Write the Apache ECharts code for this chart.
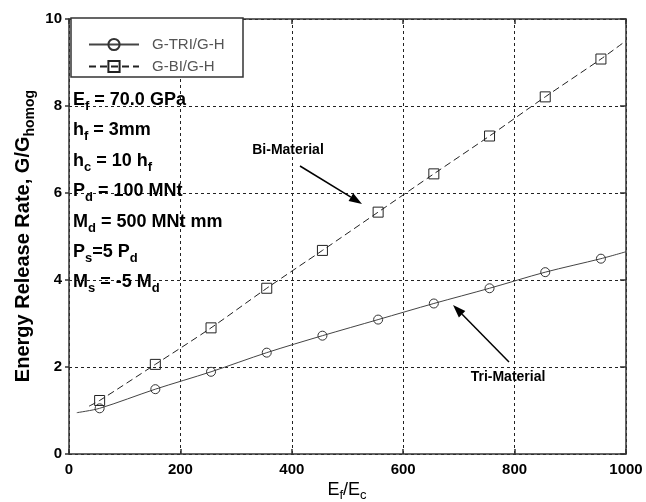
<!DOCTYPE html>
<html>
<head>
<meta charset="utf-8">
<script src="https://cdn.jsdelivr.net/npm/echarts@6/dist/echarts.min.js"></script>
<style>html,body{margin:0;padding:0;background:#fff;}#c{width:646px;height:502px;}</style>
</head>
<body>
<div id="c"></div>
<script>
// ---- data ----
const xTicks = [0, 200, 400, 600, 800, 1000];
const yTicks = [0, 2, 4, 6, 8, 10];
const seriesNames = ['G-TRI/G-H', 'G-BI/G-H'];
const markerX = [55, 155, 255, 355, 455, 555, 655, 755, 855, 955];
const triValues = [1.05, 1.49, 1.89, 2.33, 2.72, 3.09, 3.46, 3.81, 4.18, 4.49];
const biValues = [1.23, 2.06, 2.90, 3.81, 4.68, 5.56, 6.44, 7.31, 8.21, 9.08];
const triEnds = [[14, 0.95], [1000, 4.65]];
const biEnds = [[36, 1.10], [1000, 9.50]];
const paramLines = [
  ['E', 'f', ' = 70.0 GPa'],
  ['h', 'f', ' = 3mm'],
  ['h', 'c', ' = 10 h', 'f'],
  ['P', 'd', ' = 100 MNt'],
  ['M', 'd', ' = 500 MNt mm'],
  ['P', 's', '=5 P', 'd'],
  ['M', 's', ' = -5 M', 'd']
];

function buildSeriesData(xs, ys, ends) {
  const d = [{ value: ends[0], symbol: 'none' }];
  xs.forEach((x, i) => d.push({ value: [x, ys[i]] }));
  d.push({ value: ends[1], symbol: 'none' });
  return d;
}

const FONT = 'Liberation Sans, Arial, sans-serif';
const chart = echarts.init(document.getElementById('c'));

function richLine(parts) {
  let s = '';
  parts.forEach((p, i) => { s += (i % 2 === 0 ? '{a|' : '{s|') + p + '}'; });
  return s;
}
const richStyles = {
  a: { fontSize: 18, fontWeight: 'bold', fontFamily: FONT, lineHeight: 26, fill: '#000', verticalAlign: 'middle' },
  s: { fontSize: 13, fontWeight: 'bold', fontFamily: FONT, lineHeight: 14, fill: '#000', verticalAlign: 'bottom' }
};

const graphics = [];
// legend box
graphics.push({ type: 'rect', z: 3, shape: { x: 71, y: 18, width: 172, height: 59 },
  style: { fill: '#fff', stroke: '#333', lineWidth: 1.5 } });
// parameter text
paramLines.forEach((p, i) => {
  graphics.push({ type: 'text', z: 5, x: 73, y: 100 + i * 30.4,
    style: { text: richLine(p), rich: richStyles, textAlign: 'left', textVerticalAlign: 'middle' } });
});
// annotations
graphics.push({ type: 'text', z: 5, x: 288, y: 150,
  style: { text: 'Bi-Material', font: 'bold 14px ' + FONT, fill: '#000', textAlign: 'center', textVerticalAlign: 'middle' } });
graphics.push({ type: 'text', z: 5, x: 508, y: 377,
  style: { text: 'Tri-Material', font: 'bold 14px ' + FONT, fill: '#000', textAlign: 'center', textVerticalAlign: 'middle' } });
function arrow(x1, y1, x2, y2) {
  const ang = Math.atan2(y2 - y1, x2 - x1);
  const L = 13, W = 4.5;
  const bx = x2 - L * Math.cos(ang), by = y2 - L * Math.sin(ang);
  const px = -Math.sin(ang) * W, py = Math.cos(ang) * W;
  graphics.push({ type: 'line', z: 5, shape: { x1: x1, y1: y1, x2: bx, y2: by }, style: { stroke: '#000', lineWidth: 1.5 } });
  graphics.push({ type: 'polygon', z: 5, shape: { points: [[x2, y2], [bx + px, by + py], [bx - px, by - py]] }, style: { fill: '#000' } });
}
arrow(300, 166, 362, 204);
arrow(509, 362, 453, 305);
// axis titles
graphics.push({ type: 'text', z: 5, x: 347, y: 490,
  style: { text: '{a|E}{s|f}{a|/E}{s|c}',
    rich: { a: { fontSize: 18, fontFamily: FONT, lineHeight: 24, fill: '#000', verticalAlign: 'middle' },
            s: { fontSize: 13, fontFamily: FONT, lineHeight: 13, fill: '#000', verticalAlign: 'bottom' } },
    textAlign: 'center', textVerticalAlign: 'middle' } });
graphics.push({ type: 'text', z: 5, x: 23, y: 236, rotation: Math.PI / 2,
  style: { text: '{a|Energy Release Rate, G/G}{s|homog}',
    rich: { a: { fontSize: 20, fontWeight: 'bold', fontFamily: FONT, lineHeight: 28, fill: '#000', verticalAlign: 'middle' },
            s: { fontSize: 14, fontWeight: 'bold', fontFamily: FONT, lineHeight: 15, fill: '#000', verticalAlign: 'bottom' } },
    textAlign: 'center', textVerticalAlign: 'middle' } });

const axisLineStyle = { color: '#333', width: 1.5 };
const gridLine = { show: true, lineStyle: { color: '#222', width: 1, type: [3, 3] } };
const tickLabel = { color: '#000', fontSize: 15, fontWeight: 'bold', fontFamily: FONT, formatter: v => String(v) };

const option = {
  animation: false,
  backgroundColor: '#fff',
  grid: { left: 69, right: 20, top: 19, bottom: 48 },
  legend: {
    orient: 'vertical', left: 83, top: 32, itemWidth: 50, itemHeight: 14, itemGap: 7, z: 6,
    textStyle: { color: '#555', fontSize: 15, fontFamily: FONT, padding: [0, 0, 0, 8] },
    data: seriesNames
  },
  xAxis: [
    { type: 'value', position: 'bottom', min: xTicks[0], max: xTicks[xTicks.length - 1], interval: 200,
      axisLine: { show: true, onZero: false, lineStyle: axisLineStyle },
      axisTick: { show: true, inside: true, length: 5, lineStyle: axisLineStyle },
      axisLabel: Object.assign({ margin: 8 }, tickLabel),
      splitLine: gridLine },
    { type: 'value', position: 'top', min: xTicks[0], max: xTicks[xTicks.length - 1], interval: 200,
      axisLine: { show: true, onZero: false, lineStyle: axisLineStyle },
      axisTick: { show: true, inside: true, length: 5, lineStyle: axisLineStyle },
      axisLabel: { show: false }, splitLine: { show: false } }
  ],
  yAxis: [
    { type: 'value', position: 'left', min: yTicks[0], max: yTicks[yTicks.length - 1], interval: 2,
      axisLine: { show: true, onZero: false, lineStyle: axisLineStyle },
      axisTick: { show: true, inside: false, length: 4, lineStyle: axisLineStyle },
      axisLabel: Object.assign({ margin: 7 }, tickLabel),
      splitLine: gridLine },
    { type: 'value', position: 'right', min: yTicks[0], max: yTicks[yTicks.length - 1], interval: 2,
      axisLine: { show: true, onZero: false, lineStyle: axisLineStyle },
      axisTick: { show: true, inside: true, length: 6, lineStyle: axisLineStyle },
      axisLabel: { show: false }, splitLine: { show: false } }
  ],
  series: [
    { name: seriesNames[0], type: 'line', smooth: 0.3, symbol: 'circle', symbolSize: 9,
      color: '#333',
      lineStyle: { color: '#444', width: 1 },
      itemStyle: { color: 'transparent', borderColor: '#333', borderWidth: 1 },
      data: buildSeriesData(markerX, triValues, triEnds) },
    { name: seriesNames[1], type: 'line', smooth: 0.3, symbol: 'rect', symbolSize: 10,
      color: '#333',
      lineStyle: { color: '#222', width: 1, type: [7, 4] },
      itemStyle: { color: 'transparent', borderColor: '#222', borderWidth: 1 },
      data: buildSeriesData(markerX, biValues, biEnds) }
  ],
  graphic: graphics
};
chart.setOption(option);
</script>
</body>
</html>
